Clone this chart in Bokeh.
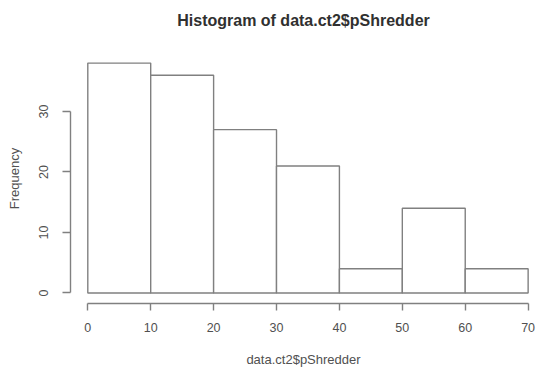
from bokeh.plotting import figure
from bokeh.models import Range1d, FixedTicker, Title
from bokeh.embed import file_html
from bokeh.resources import INLINE

# Data
bin_left = [0, 10, 20, 30, 40, 50, 60]
bin_right = [10, 20, 30, 40, 50, 60, 70]
counts = [38, 36, 27, 21, 4, 14, 4]
x_ticks = [0, 10, 20, 30, 40, 50, 60, 70]
y_ticks = [0, 10, 20, 30]
title_text = "Histogram of data.ct2$pShredder"
x_label = "data.ct2$pShredder"
y_label = "Frequency"

FONT = "Liberation Sans"
LINE = "#808080"
TEXT = "#505050"

p = figure(
    frame_width=466, frame_height=250,
    min_border_left=70, min_border_right=0, min_border_top=53, min_border_bottom=64,
    x_range=Range1d(-2.75, 71.33), y_range=Range1d(-1.74, 39.59),
    output_backend="svg", toolbar_location=None, title=None,
)

p.quad(left=bin_left, right=bin_right, top=counts, bottom=0,
       fill_color="white", line_color=LINE, line_width=1.4)

# spacer between frame and title (R places the title well above the plot)
spacer = Title(text=" ", text_font_size="1px", standoff=22)
p.add_layout(spacer, "above")
main_title = Title(text=title_text, align="center", standoff=0,
                   text_font=FONT, text_font_size="16px",
                   text_font_style="bold", text_color="#303030")
p.add_layout(main_title, "above")

p.xgrid.visible = False
p.ygrid.visible = False
p.outline_line_color = None

xa = p.xaxis[0]
xa.ticker = FixedTicker(ticks=x_ticks)
xa.bounds = (0, 70)
xa.axis_line_color = LINE
xa.axis_line_width = 1.4
xa.major_tick_line_color = LINE
xa.major_tick_line_width = 1.4
xa.major_tick_out = 7
xa.major_tick_in = 0
xa.minor_tick_line_color = None
xa.major_label_standoff = 12
xa.major_label_text_font = FONT
xa.major_label_text_font_size = "12.5px"
xa.major_label_text_color = TEXT
xa.axis_label = x_label
xa.axis_label_text_font = FONT
xa.axis_label_text_font_size = "13px"
xa.axis_label_text_font_style = "normal"
xa.axis_label_text_color = TEXT
xa.axis_label_text_line_height = 0.9
xa.axis_label_standoff = 17

ya = p.yaxis[0]
ya.ticker = FixedTicker(ticks=y_ticks)
ya.bounds = (0, 30)
ya.axis_line_color = LINE
ya.axis_line_width = 1.4
ya.major_tick_line_color = LINE
ya.major_tick_line_width = 1.4
ya.major_tick_out = 8
ya.major_tick_in = 0
ya.minor_tick_line_color = None
ya.major_label_orientation = "vertical"
ya.major_label_standoff = 14
ya.major_label_text_font = FONT
ya.major_label_text_font_size = "12.5px"
ya.major_label_text_color = TEXT
ya.axis_label = y_label
ya.axis_label_text_font = FONT
ya.axis_label_text_font_size = "13px"
ya.axis_label_text_font_style = "normal"
ya.axis_label_text_color = TEXT
ya.axis_label_standoff = 15

open("out.html", "w").write(file_html(p, INLINE))
